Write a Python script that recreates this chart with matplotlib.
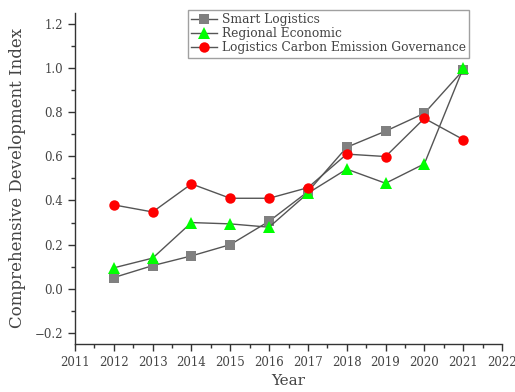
import matplotlib
matplotlib.use("Agg")
import matplotlib.pyplot as plt
from matplotlib.ticker import MultipleLocator

plt.rcParams['font.family'] = ['DejaVu Serif']

years = [2012, 2013, 2014, 2015, 2016, 2017, 2018, 2019, 2020, 2021]
smart_logistics = [0.051, 0.105, 0.149, 0.200, 0.306, 0.440, 0.641, 0.714, 0.795, 0.990]
regional_economic = [0.095, 0.139, 0.300, 0.294, 0.279, 0.433, 0.542, 0.478, 0.566, 0.999]
carbon_governance = [0.380, 0.348, 0.475, 0.410, 0.410, 0.458, 0.610, 0.599, 0.772, 0.676]
x_ticks = list(range(2011, 2023))

fig = plt.figure(figsize=(5.15, 3.92), dpi=100)
ax = fig.add_axes([0.1456, 0.1224, 0.8292, 0.845])

line_kw = dict(color='#555555', linewidth=1.0, markeredgewidth=0)
ax.plot(years, smart_logistics, marker='s', markersize=6.5, markerfacecolor='#808080',
        label='Smart Logistics', **line_kw)
ax.plot(years, regional_economic, marker='^', markersize=8, markerfacecolor='#00ff00',
        label='Regional Economic', **line_kw)
ax.plot(years, carbon_governance, marker='o', markersize=7.5, markerfacecolor='#ff0000',
        label='Logistics Carbon Emission Governance', **line_kw)

ax.set_xlim(2011, 2022)
ax.set_ylim(-0.25, 1.25)
ax.set_xticks(x_ticks)
ax.xaxis.set_minor_locator(MultipleLocator(0.5))
ax.yaxis.set_major_locator(MultipleLocator(0.2))
ax.yaxis.set_minor_locator(MultipleLocator(0.1))
ax.yaxis.set_major_formatter(matplotlib.ticker.FuncFormatter(
    lambda v, p: ('\u2212' if v < -1e-9 else '') + '%.1f' % abs(v)))

for s in ['top', 'right']:
    ax.spines[s].set_visible(False)
for s in ['left', 'bottom']:
    ax.spines[s].set_color('#333333')
    ax.spines[s].set_linewidth(1.0)

ax.tick_params(which='major', direction='out', length=5, width=1, colors='#333333',
               labelsize=8.5, labelcolor='#444444')
ax.tick_params(which='minor', direction='out', length=3, width=1, colors='#333333')

ax.set_xlabel('Year', fontsize=11, color='#444444', labelpad=4)
ax.set_ylabel('Comprehensive Development Index', fontsize=12, color='#444444', labelpad=6)

leg = ax.legend(loc='upper left', bbox_to_anchor=(188 / 515, 1 - 10 / 392),
                bbox_transform=fig.transFigure, fontsize=8.8, frameon=True,
                fancybox=False, edgecolor='#888888', borderpad=0.25,
                labelspacing=0.1, handlelength=2.1, handletextpad=0.4,
                borderaxespad=0)
leg.get_frame().set_linewidth(1.0)
for t in leg.get_texts():
    t.set_color('#444444')

fig.savefig('out.png', dpi=100)
